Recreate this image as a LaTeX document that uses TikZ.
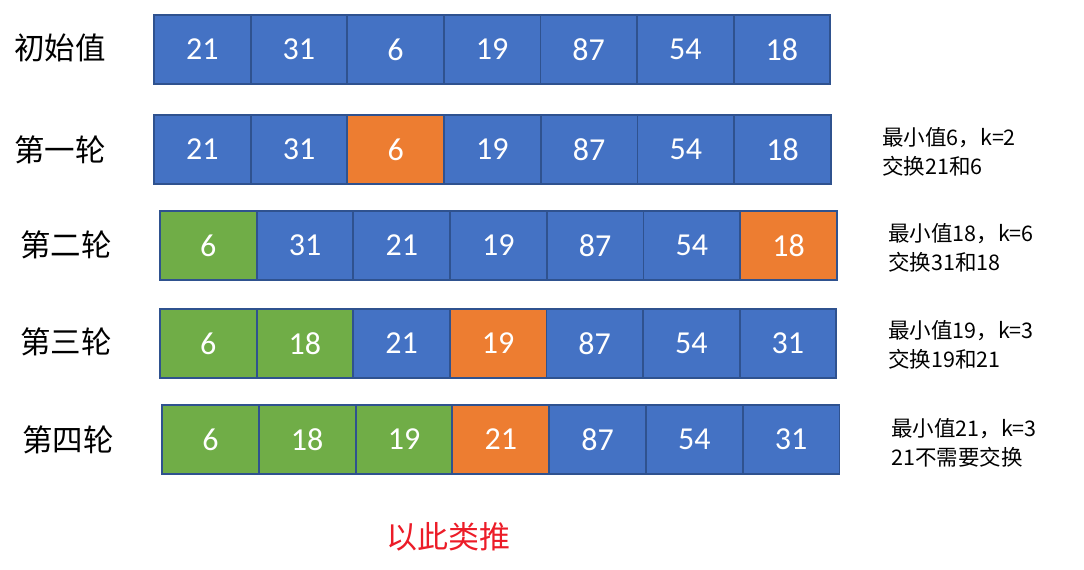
\documentclass[tikz,border=0pt]{standalone}
\usepackage{fontspec}
\setmainfont{Noto Sans CJK SC}
\newfontfamily\numfont{Carlito}
\usetikzlibrary{positioning}
\definecolor{cellblue}{RGB}{68,114,196}
\definecolor{cellorange}{RGB}{237,125,49}
\definecolor{cellgreen}{RGB}{112,173,71}
\definecolor{celledge}{RGB}{47,82,143}
\definecolor{hintred}{RGB}{236,28,40}

\begin{document}
\begin{tikzpicture}[
    x=1pt, y=-1pt,
    cell/.style={rectangle, draw=celledge, line width=1.8pt, minimum width=96.6pt, minimum height=69pt, inner sep=0pt, text=white, font=\fontsize{32}{32}\selectfont\numfont},
    rowlabel/.style={font=\fontsize{30.5}{30.5}\selectfont},
    notetext/.style={anchor=west, align=left, inner sep=0pt, font=\fontsize{21.5}{29}\selectfont}
  ]
  \useasboundingbox (0,0) rectangle (1084,570);

  % Initial values
  \node[rowlabel] (lab0) at (60,48) {初始值};
  \foreach \v/\c [count=\i] in {21/cellblue,31/cellblue,6/cellblue,19/cellblue,87/cellblue,54/cellblue,18/cellblue}
    \node[cell, fill=\c] (r0c\i) at ({154+(\i-0.5)*96.6},49.5) {\v};

  % Round 1
  \node[rowlabel] (lab1) at (60,150) {第一轮};
  \foreach \v/\c [count=\i] in {21/cellblue,31/cellblue,6/cellorange,19/cellblue,87/cellblue,54/cellblue,18/cellblue}
    \node[cell, fill=\c] (r1c\i) at ({154+(\i-0.5)*96.7},149.5) {\v};
  \node[notetext] (note1) at (882,151.5) {最小值6，k=2\\交换21和6};

  % Round 2
  \node[rowlabel] (lab2) at (66,245) {第二轮};
  \foreach \v/\c [count=\i] in {6/cellgreen,31/cellblue,21/cellblue,19/cellblue,87/cellblue,54/cellblue,18/cellorange}
    \node[cell, fill=\c] (r2c\i) at ({160+(\i-0.5)*96.7},245.5) {\v};
  \node[notetext] (note2) at (888,248) {最小值18，k=6\\交换31和18};

  % Round 3
  \node[rowlabel] (lab3) at (66,342) {第三轮};
  \foreach \v/\c [count=\i] in {6/cellgreen,18/cellgreen,21/cellblue,19/cellorange,87/cellblue,54/cellblue,31/cellblue}
    \node[cell, fill=\c] (r3c\i) at ({160+(\i-0.5)*96.6},343.5) {\v};
  \node[notetext] (note3) at (888,345) {最小值19，k=3\\交换19和21};

  % Round 4
  \node[rowlabel] (lab4) at (68,440) {第四轮};
  \foreach \v/\c [count=\i] in {6/cellgreen,18/cellgreen,19/cellgreen,21/cellorange,87/cellblue,54/cellblue,31/cellblue}
    \node[cell, fill=\c] (r4c\i) at ({162+(\i-0.5)*96.8},439.5) {\v};
  \node[notetext] (note4) at (891,442.5) {最小值21，k=3\\21不需要交换};

  % And so on
  \node[font=\fontsize{31}{31}\selectfont, text=hintred] (etc) at (448,537) {以此类推};
\end{tikzpicture}
\end{document}
